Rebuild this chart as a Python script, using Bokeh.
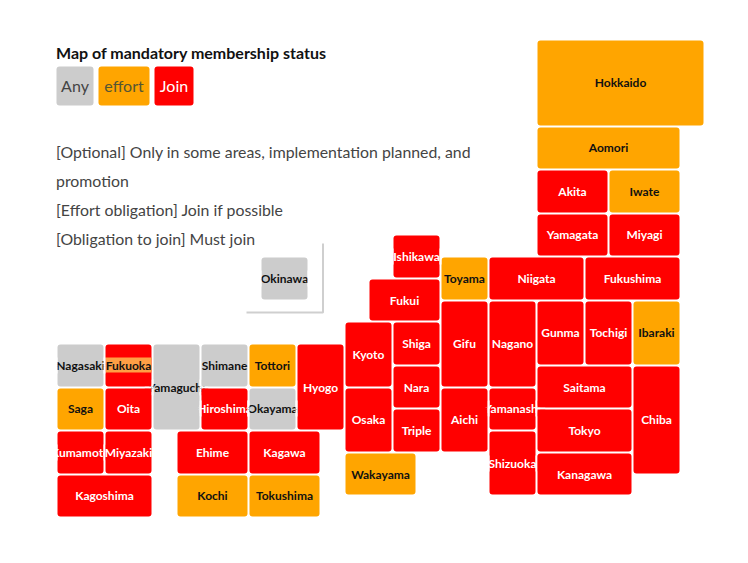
import math
from bokeh.plotting import figure
from bokeh.models import Range1d
from bokeh.core.properties import value
from bokeh.embed import file_html
from bokeh.resources import INLINE

TITLE = "Map of mandatory membership status"
LEGEND_LABELS = ["Any", "effort", "Join"]
NOTES = ["[Optional] Only in some areas, implementation planned, and",
         "promotion",
         "[Effort obligation] Join if possible",
         "[Obligation to join] Must join"]

# status of each prefecture: 0 = Any, 1 = effort, 2 = Join
PREFECTURES = ["Hokkaido", "Aomori", "Akita", "Iwate", "Yamagata", "Miyagi", "Ishikawa", "Toyama", "Niigata",
               "Fukushima", "Okinawa", "Fukui", "Kyoto", "Shiga", "Gifu", "Nagano", "Gunma", "Tochigi", "Ibaraki",
               "Nagasaki", "Fukuoka", "Yamaguchi", "Shimane", "Tottori", "Hyogo", "Saga", "Oita", "Hiroshima",
               "Okayama", "Nara", "Saitama", "Chiba", "Osaka", "Triple", "Aichi", "Yamanashi", "Tokyo", "Kumamoto",
               "Miyazaki", "Ehime", "Kagawa", "Wakayama", "Shizuoka", "Kanagawa", "Kagoshima", "Kochi", "Tokushima"]
STATUS = [1, 1, 2, 1, 2, 2, 2, 1, 2,
          2, 0, 2, 2, 2, 2, 2, 2, 2, 1,
          0, 2, 0, 0, 1, 2, 1, 2, 2,
          0, 2, 2, 2, 2, 2, 2, 2, 2, 2,
          2, 2, 2, 1, 2, 2, 2, 1, 1]

# tile layout: column start/end (24px units), row start/end (21.75px units)
LAYOUT = {
    "Hokkaido": (20, 27, 0, 4), "Aomori": (20, 26, 4, 6), "Akita": (20, 23, 6, 8), "Iwate": (23, 26, 6, 8),
    "Yamagata": (20, 23, 8, 10), "Miyagi": (23, 26, 8, 10), "Ishikawa": (14, 16, 9, 11), "Toyama": (16, 18, 10, 12),
    "Niigata": (18, 22, 10, 12), "Fukushima": (22, 26, 10, 12), "Okinawa": (8.5, 10.5, 10, 12),
    "Fukui": (13, 16, 11, 13), "Kyoto": (12, 14, 13, 16), "Shiga": (14, 16, 13, 15), "Gifu": (16, 18, 12, 16),
    "Nagano": (18, 20, 12, 16), "Gunma": (20, 22, 12, 15), "Tochigi": (22, 24, 12, 15), "Ibaraki": (24, 26, 12, 15),
    "Nagasaki": (0, 2, 14, 16), "Fukuoka": (2, 4, 14, 16), "Yamaguchi": (4, 6, 14, 18), "Shimane": (6, 8, 14, 16),
    "Tottori": (8, 10, 14, 16), "Hyogo": (10, 12, 14, 18), "Saga": (0, 2, 16, 18), "Oita": (2, 4, 16, 18),
    "Hiroshima": (6, 8, 16, 18), "Okayama": (8, 10, 16, 18), "Nara": (14, 16, 15, 17), "Saitama": (20, 24, 15, 17),
    "Chiba": (24, 26, 15, 20), "Osaka": (12, 14, 16, 19), "Triple": (14, 16, 17, 19), "Aichi": (16, 18, 16, 19),
    "Yamanashi": (18, 20, 16, 18), "Tokyo": (20, 24, 17, 19), "Kumamoto": (0, 2, 18, 20), "Miyazaki": (2, 4, 18, 20),
    "Ehime": (5, 8, 18, 20), "Kagawa": (8, 11, 18, 20), "Wakayama": (12, 15, 19, 21), "Shizuoka": (18, 20, 18, 21),
    "Kanagawa": (20, 24, 19, 21), "Kagoshima": (0, 4, 20, 22), "Kochi": (5, 8, 20, 22), "Tokushima": (8, 11, 20, 22),
}
# labels wider than their tile, with how many px stick out on each side; the tile clips them
CLIPPED = {"Kumamoto": 10, "Yamaguchi": 9, "Hiroshima": 9, "Yamanashi": 10, "Shizuoka": 4, "Ishikawa": 2,
           "Nagasaki": 2, "Okayama": 2, "Okinawa": 2}

COLORS = ["#cccccc", "#ffa500", "#ff0000"]
TEXT_COLORS = ["#111111", "#111111", "#ffffff"]
FONT = value("Lato")
W, H = 732, 547
CW, RH = 24.0, 21.75
X0, Y0 = 56.0, 39.5
PAGE_DY = 1     # the frame sits this many px lower than page row 0
TEXT_UP = 1     # text reads this many px low at baseline "middle"


def gx(px):  # page px to grid column
    return (px - X0) / CW


def gy(py):  # page px to grid row
    return (py - Y0) / RH


def snap(v):
    return math.floor(v + 0.5)


p = figure(width=W, height=H, output_backend="svg", toolbar_location=None, min_border=0,
           x_range=Range1d(gx(0), gx(W)), y_range=Range1d(gy(H + PAGE_DY), gy(PAGE_DY)))
p.axis.visible = False
p.grid.visible = False
p.outline_line_color = None
p.background_fill_color = "#ffffff"
p.border_fill_color = "#ffffff"

status = dict(zip(PREFECTURES, STATUS))
names = PREFECTURES


def bounds(n):
    # tile edges in whole page pixels, 1px inside its grid cell
    c0, c1, r0, r1 = LAYOUT[n]
    return (snap(X0 + CW * c0 + 1), snap(X0 + CW * c1 - 1),
            snap(Y0 + RH * r0 + 1), snap(Y0 + RH * r1 - 1))


def quad_px(boxes, colors, **kw):
    p.quad(left=[gx(b[0]) for b in boxes], right=[gx(b[1]) for b in boxes],
           top=[gy(b[2]) for b in boxes], bottom=[gy(b[3]) for b in boxes],
           fill_color=colors, line_color=None, **kw)


def tile_at(px, py):
    for m in names:
        l, r, t, b = bounds(m)
        if l <= px < r and t <= py < b:
            return m
    return None


def strip_cells(sa, sb, ya, yb):
    # split a strip into cells along tile edges, each with the colour lying under it
    xs, ys = {sa, sb}, {ya, yb}
    for m in names:
        l, r, t, b = bounds(m)
        xs.update(v for v in (l, r) if sa < v < sb)
        ys.update(v for v in (t, b) if ya < v < yb)
    xs, ys = sorted(xs), sorted(ys)
    boxes, colors = [], []
    for x0, x1 in zip(xs, xs[1:]):
        for y0, y1 in zip(ys, ys[1:]):
            m = tile_at(x0, y0)
            boxes.append((x0, x1, y0, y1))
            colors.append(COLORS[status[m]] if m else "#ffffff")
    return boxes, colors


# tiles
quad_px([bounds(n) for n in names], [COLORS[status[n]] for n in names], border_radius=3)

# Okinawa inset frame
p.line([gx(322.5), gx(322.5), gx(246)], [gy(244), gy(313), gy(313)], line_color="#cfcfcf", line_width=2)

# orange band behind the Fukuoka label
fb = bounds("Fukuoka")
quad_px([(fb[0], fb[1], 358, 373)], ["#ff9f45"])


def draw_label(n, color=None):
    c0, c1, r0, r1 = LAYOUT[n]
    p.text([(c0 + c1) / 2], [(r0 + r1) / 2], text=[n], text_font=FONT, text_font_style="bold",
           text_font_size="12px", text_align="center", text_baseline="middle",
           text_color=color or TEXT_COLORS[status[n]])


# clipped labels first: redraw what lies beside the tile over the overhanging ends
for n, over in CLIPPED.items():
    draw_label(n)
    l, r, t, b = bounds(n)
    c0, c1, r0, r1 = LAYOUT[n]
    ym = snap(Y0 + RH * (r0 + r1) / 2)
    for sa, sb in [(l - over, l), (r, r + over)]:
        boxes, colors = strip_cells(sa, sb, ym - 8, ym + 8)
        quad_px(boxes, colors)

for n in names:
    if n not in CLIPPED:
        draw_label(n, "#111111" if n == "Fukuoka" else None)

# title
p.text([gx(55.5)], [gy(54 - TEXT_UP)], text=[TITLE], text_font=FONT, text_font_style="bold", text_font_size="16px",
       text_align="left", text_baseline="middle", text_color="#111111")

# legend chips
chip_x = [(56, 93), (98, 149), (154, 193)]
chip_text = ["#444444", "#555533", "#ffffff"]
quad_px([(a, c, 67, 106) for a, c in chip_x], COLORS, border_radius=3)
p.text([gx((a + c) / 2) for a, c in chip_x], [gy(86.5 - TEXT_UP)] * 3, text=LEGEND_LABELS, text_font=FONT,
       text_font_size="16px", text_align="center", text_baseline="middle", text_color=chip_text)

# notes
p.text([gx(55.5)] * 4, [gy(y - TEXT_UP) for y in (153, 182, 211, 240)], text=NOTES, text_font=FONT,
       text_font_size="15.85px", text_align="left", text_baseline="middle", text_color="#444444")

open("out.html", "w").write(file_html(p, INLINE))
